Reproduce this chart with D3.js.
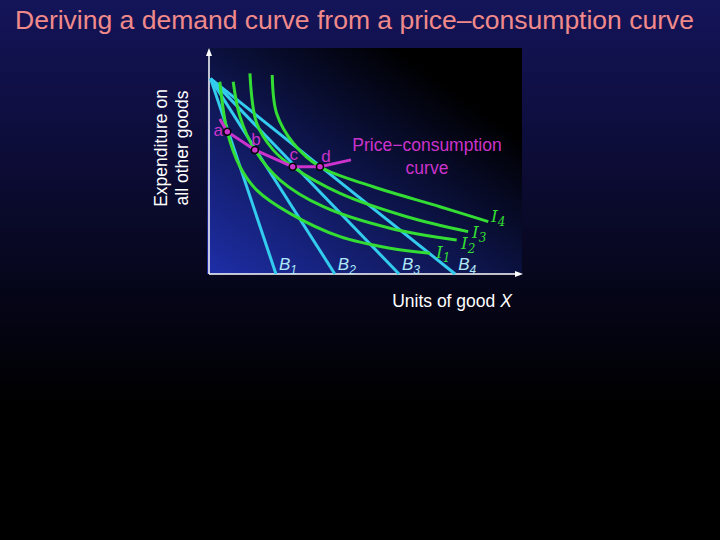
<!DOCTYPE html>
<html><head><meta charset="utf-8">
<script src="https://cdn.jsdelivr.net/npm/d3@7"></script>
<style>body{margin:0;background:#000}</style>
</head><body><div id="chart"></div>
<script>
// budget lines: common y intercept, x intercepts
var budgetY = 88;
var budgetX = [21.6, 40.6, 61.3, 79.4];
var budgetNames = ["1", "2", "3", "4"];

// indifference curves
var I1 = [[3.5,86.6],[5.9,64.1],[10,48.3],[15.4,37.8],[26.1,27.3],[42.3,16.8],[58.4,11.6],[71.3,9.3]];
var I2 = [[7.8,86.6],[10,70.9],[14.8,55.9],[22.9,42.3],[36.9,30.3],[58.4,20.6],[79.9,15.3]];
var I3 = [[13.2,90.4],[15.4,67.9],[20.7,55.9],[27,48.3],[42.3,36.3],[63.8,25.8],[83.6,19.1]];
var I4 = [[20.4,89.6],[21.8,72.4],[27.2,58.9],[35.8,48.3],[53,39.3],[74.5,30.3],[90.1,23.6]];
var curves = [I1, I2, I3, I4];

// tangency points and price-consumption curve
var pointNames = ["a", "b", "c", "d"];
var pointsX = [5.9, 14.8, 27, 35.8];
var pointsY = [64.1, 55.9, 48.3, 48.3];
var pccStart = [3.5, 69.8], pccEnd = [45.8, 51.4];

var W = 720, H = 540;
var svg = d3.select("#chart").append("svg").attr("width", W).attr("height", H)
    .style("font-family", "Arial, 'Liberation Sans', sans-serif");

var defs = svg.append("defs");
var bg = defs.append("linearGradient").attr("id", "bg").attr("x1", 0).attr("y1", 0).attr("x2", 0).attr("y2", 1);
bg.append("stop").attr("offset", "0%").attr("stop-color", "#14145a");
bg.append("stop").attr("offset", "75%").attr("stop-color", "#000000");
var pg = defs.append("linearGradient").attr("id", "pg").attr("x1", 0).attr("y1", 1).attr("x2", 1).attr("y2", 0);
pg.append("stop").attr("offset", "0%").attr("stop-color", "#1e2ea8");
pg.append("stop").attr("offset", "80%").attr("stop-color", "#000000");

svg.append("rect").attr("width", W).attr("height", H).attr("fill", "url(#bg)");
svg.append("rect").attr("x", 207).attr("y", 48).attr("width", 315).attr("height", 226).attr("fill", "url(#pg)");

var x = d3.scaleLinear().domain([0, 100]).range([209, 519]);
var y = d3.scaleLinear().domain([0, 100]).range([274, 52]);

// axes with arrows
svg.append("line").attr("x1", x(0)).attr("y1", y(0)).attr("x2", x(0)).attr("y2", y(99)).attr("stroke", "#fff").attr("stroke-width", 1.5);
svg.append("path").attr("d", "M" + x(0) + "," + (y(100) - 4) + "l-3,8h6z").attr("fill", "#fff");
svg.append("line").attr("x1", x(0)).attr("y1", y(0)).attr("x2", x(99)).attr("y2", y(0)).attr("stroke", "#fff").attr("stroke-width", 1.5);
svg.append("path").attr("d", "M" + (x(100) + 4) + "," + y(0) + "l-8,-3v6z").attr("fill", "#fff");

// budget lines
svg.selectAll(".budget").data(budgetX).enter().append("line")
    .attr("x1", x(0.5)).attr("y1", y(budgetY))
    .attr("x2", function (d) { return x(d); }).attr("y2", y(0))
    .attr("stroke", "#33ccee").attr("stroke-width", 3);

// indifference curves
var line = d3.line().x(function (d) { return x(d[0]); }).y(function (d) { return y(d[1]); }).curve(d3.curveCatmullRom.alpha(0.5));
svg.selectAll(".ic").data(curves).enter().append("path")
    .attr("d", line).attr("fill", "none").attr("stroke", "#33dd33").attr("stroke-width", 3);

// price-consumption curve
var pcc = [pccStart].concat(pointsX.map(function (d, i) { return [d, pointsY[i]]; }), [pccEnd]);
svg.append("path").attr("d", d3.line().x(function (d) { return x(d[0]); }).y(function (d) { return y(d[1]); })(pcc))
    .attr("fill", "none").attr("stroke", "#cc33cc").attr("stroke-width", 3);
svg.selectAll(".pt").data(pointsX).enter().append("circle")
    .attr("cx", function (d) { return x(d); }).attr("cy", function (d, i) { return y(pointsY[i]); })
    .attr("r", 3.5).attr("fill", "#cc33cc").attr("stroke", "#000").attr("stroke-width", 1.5);
var labOff = [[-9, 4], [1, -5], [1, -7], [6, -5]];
svg.selectAll(".pl").data(pointNames).enter().append("text")
    .attr("x", function (d, i) { return x(pointsX[i]) + labOff[i][0]; })
    .attr("y", function (d, i) { return y(pointsY[i]) + labOff[i][1]; })
    .attr("text-anchor", "middle").attr("fill", "#cc33cc").attr("font-size", 17).text(function (d) { return d; });
svg.append("text").attr("x", 427).attr("y", 151).attr("text-anchor", "middle").attr("fill", "#cc33cc").attr("font-size", 17.5).text("Price\u2212consumption");
svg.append("text").attr("x", 427).attr("y", 174).attr("text-anchor", "middle").attr("fill", "#cc33cc").attr("font-size", 17.5).text("curve");

// B labels
svg.selectAll(".bl").data(budgetX).enter().append("text")
    .attr("x", function (d) { return x(d) + 3; }).attr("y", 270)
    .attr("fill", "#aee8f8").attr("font-size", 17).attr("font-style", "italic")
    .each(function (d, i) {
        d3.select(this).append("tspan").text("B");
        d3.select(this).append("tspan").attr("font-size", 12).attr("dy", 4).text(budgetNames[i]);
    });

// I labels
var iPos = [[436, 258], [461, 249], [472, 238], [491, 222]];
iPos.forEach(function (p, i) {
    var t = svg.append("text").attr("x", p[0]).attr("y", p[1]).attr("fill", "#33dd33")
        .attr("font-size", 17).attr("font-style", "italic").attr("font-family", "'DejaVu Serif', serif");
    t.append("tspan").text("I");
    t.append("tspan").attr("font-size", 12).attr("dy", 4).text(i + 1);
});

// axis titles
svg.append("text").attr("x", 452).attr("y", 307).attr("text-anchor", "middle").attr("fill", "#fff").attr("font-size", 17.5)
    .text("Units of good ").append("tspan").attr("font-style", "italic").text("X");
var yl = svg.append("text").attr("transform", "translate(167,148) rotate(-90)").attr("text-anchor", "middle").attr("fill", "#fff").attr("font-size", 17.5);
yl.append("tspan").attr("x", 0).attr("dy", 0).text("Expenditure on");
yl.append("tspan").attr("x", 0).attr("dy", 21).text("all other goods");

// title
svg.append("text").attr("x", 15).attr("y", 29).attr("fill", "#f08a8a").attr("font-size", 26.5)
    .text("Deriving a demand curve from a price\u2013consumption curve");
</script></body></html>
